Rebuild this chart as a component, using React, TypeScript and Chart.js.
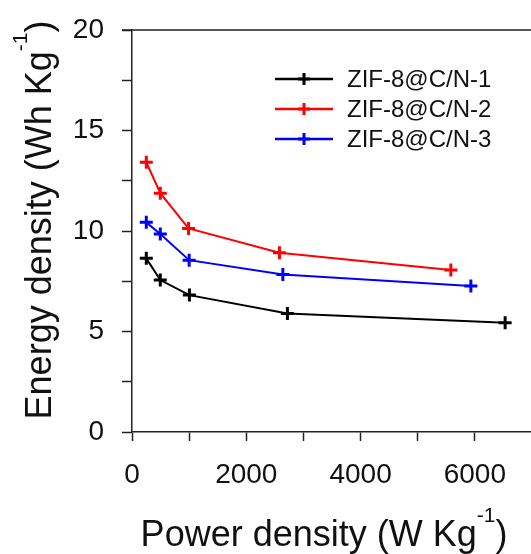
import React, { useEffect, useRef } from 'react';
import { Chart, registerables } from 'chart.js';

Chart.register(...registerables);

// ---- data ----
const seriesLabels = ['ZIF-8@C/N-1', 'ZIF-8@C/N-2', 'ZIF-8@C/N-3'];
const seriesColors = ['#000000', '#ff0000', '#0000ff'];

const powerN1 = [250, 495, 1005, 2720, 6530];
const energyN1 = [8.64, 7.56, 6.81, 5.9, 5.43];

const powerN2 = [250, 495, 990, 2580, 5580];
const energyN2 = [13.42, 11.88, 10.13, 8.92, 8.06];

const powerN3 = [250, 495, 1000, 2640, 5930];
const energyN3 = [10.43, 9.85, 8.55, 7.84, 7.26];

const xTickLabels = ['0', '2000', '4000', '6000'];
const yTickLabels = ['0', '5', '10', '15', '20'];

const xTitle = ['Power density (W Kg', '-1', ')'];
const yTitle = ['Energy density (Wh Kg', '-1', ')'];

const FONT = '"Liberation Sans", Arial, Helvetica, sans-serif';
const AXIS_COLOR = '#222222';
const TEXT_COLOR = '#111111';

// canvas is shifted up by this many px inside the 531x554 frame
const SHIFT_Y = 5;

function drawSupText(
  ctx: CanvasRenderingContext2D,
  cx: number,
  y: number,
  parts: string[],
  size: number,
  supSize: number,
  raise: number
) {
  const big = `${size}px ${FONT}`;
  const small = `${supSize}px ${FONT}`;
  ctx.font = big;
  const w1 = ctx.measureText(parts[0]).width;
  const w3 = ctx.measureText(parts[2]).width;
  ctx.font = small;
  const w2 = ctx.measureText(parts[1]).width;
  let x = cx - (w1 + w2 + w3) / 2;
  ctx.textAlign = 'left';
  ctx.textBaseline = 'alphabetic';
  ctx.fillStyle = TEXT_COLOR;
  ctx.font = big;
  ctx.fillText(parts[0], x, y);
  x += w1;
  ctx.font = small;
  ctx.fillText(parts[1], x, y - raise);
  x += w2;
  ctx.font = big;
  ctx.fillText(parts[2], x, y);
}

const decorPlugin = {
  id: 'decor',
  afterDraw(chart: any) {
    const { ctx, chartArea } = chart;
    const { left, right, top, bottom } = chartArea;
    ctx.save();
    // frame top & right
    ctx.strokeStyle = AXIS_COLOR;
    ctx.lineWidth = 1.5;
    ctx.beginPath();
    ctx.moveTo(left - 10, top);
    ctx.lineTo(right, top);
    ctx.lineTo(right, bottom);
    ctx.stroke();

    // axis titles
    drawSupText(ctx, 324, 546 + SHIFT_Y, xTitle, 36, 21, 24);
    ctx.save();
    ctx.translate(51, 220 + SHIFT_Y);
    ctx.rotate(-Math.PI / 2);
    drawSupText(ctx, 0, 0, yTitle, 36, 21, 24);
    ctx.restore();

    // legend
    const lx = 275;
    const ly = 79 + SHIFT_Y;
    const lineLen = 58;
    chart.data.datasets.forEach((ds: any, i: number) => {
      const y = ly + i * 30;
      ctx.strokeStyle = ds.borderColor;
      ctx.lineWidth = 2.5;
      ctx.beginPath();
      ctx.moveTo(lx, y);
      ctx.lineTo(lx + lineLen, y);
      ctx.stroke();
      const mx = lx + lineLen / 2;
      ctx.lineWidth = 3;
      ctx.beginPath();
      ctx.moveTo(mx - 6, y);
      ctx.lineTo(mx + 6, y);
      ctx.moveTo(mx, y - 6);
      ctx.lineTo(mx, y + 6);
      ctx.stroke();
      ctx.fillStyle = TEXT_COLOR;
      ctx.font = `24px ${FONT}`;
      ctx.textAlign = 'left';
      ctx.textBaseline = 'middle';
      ctx.fillText(ds.label, lx + 72, y + 1);
    });
    ctx.restore();
  },
};

function toPoints(xs: number[], ys: number[]) {
  return xs.map((x, i) => ({ x, y: ys[i] }));
}

export default function App() {
  const ref = useRef<HTMLCanvasElement>(null);

  useEffect(() => {
    if (!ref.current) return;
    const seriesX = [powerN1, powerN2, powerN3];
    const seriesY = [energyN1, energyN2, energyN3];
    const chart = new Chart(ref.current, {
      type: 'line',
      data: {
        datasets: seriesLabels.map((label, i) => ({
          label,
          data: toPoints(seriesX[i], seriesY[i]),
          borderColor: seriesColors[i],
          backgroundColor: seriesColors[i],
          borderWidth: 2,
          pointStyle: 'cross',
          pointRadius: 6.5,
          pointBorderWidth: 3,
          pointBorderColor: seriesColors[i],
          tension: 0,
          fill: false,
        })),
      },
      options: {
        animation: false,
        responsive: false,
        devicePixelRatio: 1,
        layout: { padding: { left: 0, top: 35, right: 17, bottom: 0 } },
        plugins: {
          legend: { display: false },
          tooltip: { enabled: false },
          title: { display: false },
        },
        scales: {
          x: {
            type: 'linear',
            min: 0,
            max: 7000,
            afterFit: (scale: any) => {
              scale.height = 122;
            },
            ticks: {
              stepSize: 1000,
              autoSkip: false,
              maxRotation: 0,
              padding: 17,
              color: TEXT_COLOR,
              font: { family: FONT, size: 28 },
              callback: (v: any) => {
                const s = String(v);
                return xTickLabels.includes(s) ? s : '';
              },
            },
            grid: {
              drawOnChartArea: false,
              drawTicks: true,
              tickLength: 9,
              tickColor: AXIS_COLOR,
              tickWidth: 1.5,
            },
            border: { display: true, color: AXIS_COLOR, width: 1.5 },
            title: { display: false },
          },
          y: {
            type: 'linear',
            min: 0,
            max: 20,
            afterFit: (scale: any) => {
              scale.width = 132;
            },
            ticks: {
              stepSize: 2.5,
              autoSkip: false,
              padding: 18,
              color: TEXT_COLOR,
              font: { family: FONT, size: 28 },
              callback: (v: any) => {
                const s = String(v);
                return yTickLabels.includes(s) ? s : '';
              },
            },
            grid: {
              drawOnChartArea: false,
              drawTicks: true,
              tickLength: 10,
              tickColor: AXIS_COLOR,
              tickWidth: 1.5,
            },
            border: { display: true, color: AXIS_COLOR, width: 1.5 },
            title: { display: false },
          },
        },
      },
      plugins: [decorPlugin],
    });
    return () => chart.destroy();
  }, []);

  return (
    <div
      style={{
        position: 'fixed',
        left: 0,
        top: 0,
        width: 531,
        height: 554,
        overflow: 'hidden',
        background: '#ffffff',
      }}
    >
      <canvas
        ref={ref}
        width={549}
        height={554 + SHIFT_Y}
        style={{ display: 'block', position: 'absolute', left: 0, top: -SHIFT_Y }}
      />
    </div>
  );
}
